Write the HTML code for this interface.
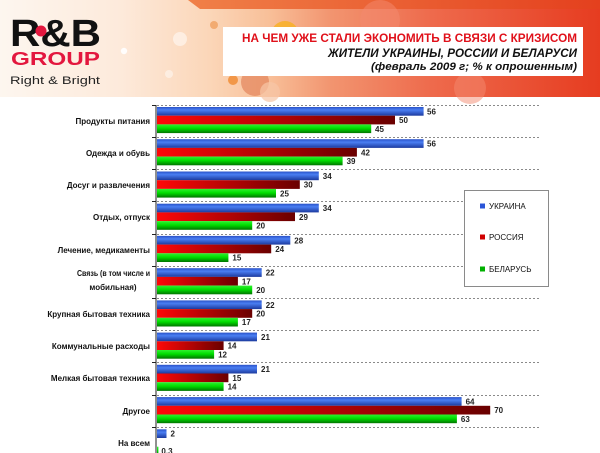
<!DOCTYPE html>
<html><head><meta charset="utf-8">
<style>
html,body{margin:0;padding:0;background:#fff;}
svg{display:block;}
text{font-family:"Liberation Sans","DejaVu Sans",sans-serif;}
</style></head>
<body>
<svg width="600" height="453" viewBox="0 0 600 453" xmlns="http://www.w3.org/2000/svg">
<defs>
<linearGradient id="hdr" x1="0" y1="0" x2="1" y2="0">
<stop offset="0" stop-color="#fdf6ef"/>
<stop offset="0.2" stop-color="#fdeadb"/>
<stop offset="0.35" stop-color="#fbd6b8"/>
<stop offset="0.45" stop-color="#f8bf98"/>
<stop offset="0.55" stop-color="#f29570"/>
<stop offset="0.72" stop-color="#ee6a4c"/>
<stop offset="1" stop-color="#e63c20"/>
</linearGradient>
<linearGradient id="band" x1="0" y1="0" x2="1" y2="0">
<stop offset="0" stop-color="#f08048"/>
<stop offset="1" stop-color="#e4401e"/>
</linearGradient>
<linearGradient id="gb" x1="0" y1="0" x2="0" y2="1">
<stop offset="0" stop-color="#2a52c8"/>
<stop offset="0.35" stop-color="#4a7ef2"/>
<stop offset="1" stop-color="#1c3a9e"/>
</linearGradient>
<linearGradient id="gr" x1="0" y1="0" x2="1" y2="0">
<stop offset="0" stop-color="#ff0808"/>
<stop offset="1" stop-color="#6a0000"/>
</linearGradient>
<linearGradient id="gg" x1="0" y1="0" x2="0" y2="1">
<stop offset="0" stop-color="#30f030"/>
<stop offset="0.45" stop-color="#00de00"/>
<stop offset="1" stop-color="#007400"/>
</linearGradient>
</defs>

<!-- header -->
<rect x="0" y="0" width="600" height="97" fill="url(#hdr)"/>
<polygon points="188,0 600,0 600,9 200,9" fill="url(#band)"/>
<circle cx="124" cy="51" r="3.2" fill="#fff" opacity="0.9"/>
<circle cx="180" cy="39" r="7" fill="#fff" opacity="0.5"/>
<circle cx="169" cy="74" r="4" fill="#fff" opacity="0.45"/>
<circle cx="214" cy="25" r="4" fill="#f0a060" opacity="0.8"/>
<circle cx="233" cy="80" r="5" fill="#f08a30" opacity="0.8"/>
<circle cx="255" cy="82" r="14" fill="#e07a50" opacity="0.6"/>
<circle cx="270" cy="92" r="10" fill="#f6c6a6" opacity="0.7"/>
<circle cx="285" cy="35" r="14" fill="#f8b020" opacity="0.8"/>
<circle cx="380" cy="20" r="20" fill="#f48a70" opacity="0.5"/>
<circle cx="470" cy="88" r="16" fill="#f48a70" opacity="0.5"/>

<!-- logo -->
<text x="10" y="46" font-size="38" font-weight="bold" fill="#111" textLength="91" lengthAdjust="spacingAndGlyphs">R&amp;B</text>
<circle cx="41" cy="31" r="5.5" fill="#e3173e"/>
<text x="11" y="65" font-size="18" font-weight="bold" fill="#e3173e" textLength="89" lengthAdjust="spacingAndGlyphs">GROUP</text>
<text x="10" y="84" font-size="11" fill="#222" textLength="90" lengthAdjust="spacingAndGlyphs">Right &amp; Bright</text>

<!-- title box -->
<rect x="223" y="27" width="360" height="49" fill="#fff"/>
<text x="577" y="42" text-anchor="end" font-size="12" font-weight="bold" fill="#e0101a" textLength="335" lengthAdjust="spacingAndGlyphs">НА ЧЕМ УЖЕ СТАЛИ ЭКОНОМИТЬ В СВЯЗИ С КРИЗИСОМ</text>
<text x="577" y="57" text-anchor="end" font-size="12" font-weight="bold" font-style="italic" fill="#111" textLength="249" lengthAdjust="spacingAndGlyphs">ЖИТЕЛИ УКРАИНЫ, РОССИИ И БЕЛАРУСИ</text>
<text x="577" y="70" text-anchor="end" font-size="11" font-weight="bold" font-style="italic" fill="#111" textLength="206" lengthAdjust="spacingAndGlyphs">(февраль 2009 г; % к опрошенным)</text>

<!-- gridlines -->
<g stroke="#8a8a8a" stroke-width="1" stroke-dasharray="2,2">
<line x1="157" y1="105.5" x2="540" y2="105.5"/>
<line x1="157" y1="137.5" x2="540" y2="137.5"/>
<line x1="157" y1="169.5" x2="540" y2="169.5"/>
<line x1="157" y1="201.5" x2="540" y2="201.5"/>
<line x1="157" y1="234.5" x2="540" y2="234.5"/>
<line x1="157" y1="266.5" x2="540" y2="266.5"/>
<line x1="157" y1="298.5" x2="540" y2="298.5"/>
<line x1="157" y1="330.5" x2="540" y2="330.5"/>
<line x1="157" y1="362.5" x2="540" y2="362.5"/>
<line x1="157" y1="395.5" x2="540" y2="395.5"/>
<line x1="157" y1="427.5" x2="540" y2="427.5"/>
</g>
<!-- axis -->
<line x1="156" y1="105" x2="156" y2="453" stroke="#222" stroke-width="1"/>
<g stroke="#222" stroke-width="1">
<line x1="152" y1="105.5" x2="156" y2="105.5"/>
<line x1="152" y1="137.5" x2="156" y2="137.5"/>
<line x1="152" y1="169.5" x2="156" y2="169.5"/>
<line x1="152" y1="201.5" x2="156" y2="201.5"/>
<line x1="152" y1="234.5" x2="156" y2="234.5"/>
<line x1="152" y1="266.5" x2="156" y2="266.5"/>
<line x1="152" y1="298.5" x2="156" y2="298.5"/>
<line x1="152" y1="330.5" x2="156" y2="330.5"/>
<line x1="152" y1="362.5" x2="156" y2="362.5"/>
<line x1="152" y1="395.5" x2="156" y2="395.5"/>
<line x1="152" y1="427.5" x2="156" y2="427.5"/>
</g>

<!-- category labels -->
<g font-size="8" font-weight="bold" fill="#111" text-anchor="end">
<text x="150" y="124">Продукты питания</text>
<text x="150" y="156">Одежда и обувь</text>
<text x="150" y="188">Досуг и развлечения</text>
<text x="150" y="220">Отдых, отпуск</text>
<text x="150" y="253">Лечение, медикаменты</text>
<text x="150" y="276" textLength="73" lengthAdjust="spacingAndGlyphs">Связь (в том числе и</text>
<text x="113" y="290" text-anchor="middle">мобильная)</text>
<text x="150" y="317">Крупная бытовая техника</text>
<text x="150" y="349">Коммунальные расходы</text>
<text x="150" y="381">Мелкая бытовая техника</text>
<text x="150" y="414">Другое</text>
<text x="150" y="446">На всем</text>
</g>

<!-- bars -->
<g font-size="8" font-weight="bold" fill="#222">
<g transform="translate(0,105)">
<rect x="157" y="2" width="266.6" height="8.7" fill="url(#gb)"/><text x="427" y="9.4">56</text>
<rect x="157" y="10.7" width="238" height="8.7" fill="url(#gr)"/><text x="399" y="18.1">50</text>
<rect x="157" y="19.4" width="214.2" height="8.7" fill="url(#gg)"/><text x="375" y="26.8">45</text>
</g>
<g transform="translate(0,137.2)">
<rect x="157" y="2" width="266.6" height="8.7" fill="url(#gb)"/><text x="427" y="9.4">56</text>
<rect x="157" y="10.7" width="199.9" height="8.7" fill="url(#gr)"/><text x="361" y="18.1">42</text>
<rect x="157" y="19.4" width="185.6" height="8.7" fill="url(#gg)"/><text x="346.6" y="26.8">39</text>
</g>
<g transform="translate(0,169.5)">
<rect x="157" y="2" width="161.8" height="8.7" fill="url(#gb)"/><text x="322.8" y="9.4">34</text>
<rect x="157" y="10.7" width="142.8" height="8.7" fill="url(#gr)"/><text x="303.8" y="18.1">30</text>
<rect x="157" y="19.4" width="119" height="8.7" fill="url(#gg)"/><text x="280" y="26.8">25</text>
</g>
<g transform="translate(0,201.7)">
<rect x="157" y="2" width="161.8" height="8.7" fill="url(#gb)"/><text x="322.8" y="9.4">34</text>
<rect x="157" y="10.7" width="138" height="8.7" fill="url(#gr)"/><text x="299" y="18.1">29</text>
<rect x="157" y="19.4" width="95.2" height="8.7" fill="url(#gg)"/><text x="256.2" y="26.8">20</text>
</g>
<g transform="translate(0,233.9)">
<rect x="157" y="2" width="133.3" height="8.7" fill="url(#gb)"/><text x="294.3" y="9.4">28</text>
<rect x="157" y="10.7" width="114.2" height="8.7" fill="url(#gr)"/><text x="275.2" y="18.1">24</text>
<rect x="157" y="19.4" width="71.4" height="8.7" fill="url(#gg)"/><text x="232.4" y="26.8">15</text>
</g>
<g transform="translate(0,266.2)">
<rect x="157" y="2" width="104.7" height="8.7" fill="url(#gb)"/><text x="265.7" y="9.4">22</text>
<rect x="157" y="10.7" width="80.9" height="8.7" fill="url(#gr)"/><text x="241.9" y="18.1">17</text>
<rect x="157" y="19.4" width="95.2" height="8.7" fill="url(#gg)"/><text x="256.2" y="26.8">20</text>
</g>
<g transform="translate(0,298.4)">
<rect x="157" y="2" width="104.7" height="8.7" fill="url(#gb)"/><text x="265.7" y="9.4">22</text>
<rect x="157" y="10.7" width="95.2" height="8.7" fill="url(#gr)"/><text x="256.2" y="18.1">20</text>
<rect x="157" y="19.4" width="80.9" height="8.7" fill="url(#gg)"/><text x="241.9" y="26.8">17</text>
</g>
<g transform="translate(0,330.6)">
<rect x="157" y="2" width="100" height="8.7" fill="url(#gb)"/><text x="261" y="9.4">21</text>
<rect x="157" y="10.7" width="66.6" height="8.7" fill="url(#gr)"/><text x="227.6" y="18.1">14</text>
<rect x="157" y="19.4" width="57.1" height="8.7" fill="url(#gg)"/><text x="218.1" y="26.8">12</text>
</g>
<g transform="translate(0,362.8)">
<rect x="157" y="2" width="100" height="8.7" fill="url(#gb)"/><text x="261" y="9.4">21</text>
<rect x="157" y="10.7" width="71.4" height="8.7" fill="url(#gr)"/><text x="232.4" y="18.1">15</text>
<rect x="157" y="19.4" width="66.6" height="8.7" fill="url(#gg)"/><text x="227.6" y="26.8">14</text>
</g>
<g transform="translate(0,395.1)">
<rect x="157" y="2" width="304.6" height="8.7" fill="url(#gb)"/><text x="465.6" y="9.4">64</text>
<rect x="157" y="10.7" width="333.2" height="8.7" fill="url(#gr)"/><text x="494.2" y="18.1">70</text>
<rect x="157" y="19.4" width="299.9" height="8.7" fill="url(#gg)"/><text x="460.9" y="26.8">63</text>
</g>
<g transform="translate(0,427.3)">
<rect x="157" y="2" width="9.5" height="8.7" fill="url(#gb)"/><text x="170.5" y="9.4">2</text>
<rect x="157" y="19.4" width="1.4" height="8.7" fill="url(#gg)"/><text x="161.4" y="26.8">0,3</text>
</g>
</g>

<!-- legend -->
<rect x="464.5" y="190.5" width="84" height="96" fill="#fff" stroke="#8a8a8a" stroke-width="1"/>
<rect x="480" y="203.5" width="5" height="5" fill="#2a55d8"/>
<rect x="480" y="234.5" width="5" height="5" fill="#d00000"/>
<rect x="480" y="266.5" width="5" height="5" fill="#00b000"/>
<g font-size="8" fill="#111">
<text x="489" y="209">УКРАИНА</text>
<text x="489" y="240">РОССИЯ</text>
<text x="489" y="272">БЕЛАРУСЬ</text>
</g>
</svg>
</body></html>
